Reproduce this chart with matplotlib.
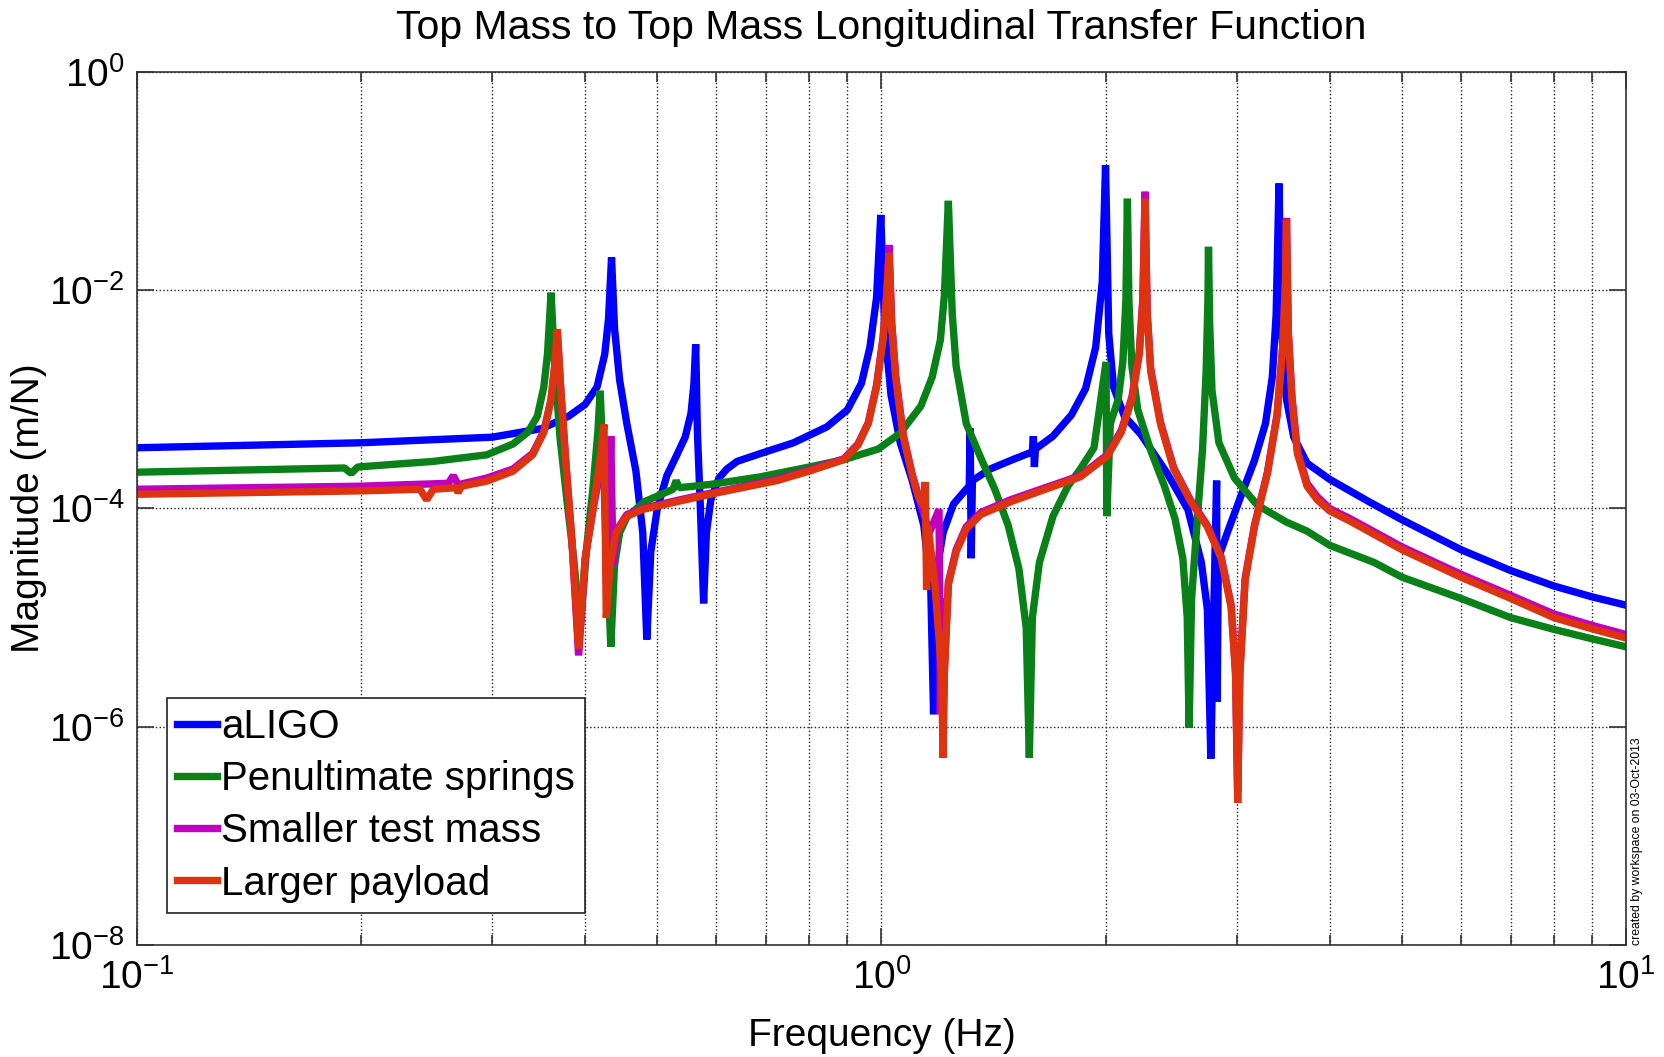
import numpy as np
import matplotlib
matplotlib.use('Agg')
import matplotlib.pyplot as plt
from matplotlib.ticker import FixedLocator, FixedFormatter, NullFormatter, NullLocator

plt.rcParams['font.family'] = ['Liberation Sans', 'DejaVu Sans']
plt.rcParams['mathtext.default'] = 'regular'

# values (frequency in Hz, magnitude in m/N)
f_aligo = [0.10, 0.20, 0.30, 0.35, 0.38, 0.40, 0.415, 0.425, 0.430, 0.434, 0.438, 0.445,
           0.455, 0.468, 0.478, 0.484, 0.490, 0.500, 0.515, 0.530, 0.545, 0.555, 0.560, 0.563,
           0.566, 0.571, 0.577, 0.582, 0.590, 0.605, 0.62, 0.64, 0.689, 0.762, 0.845, 0.90,
           0.94, 0.965, 0.985, 0.998, 1.01, 1.03, 1.06, 1.10, 1.14, 1.165, 1.175, 1.185, 1.21,
           1.25, 1.30, 1.312, 1.316, 1.320, 1.325, 1.40, 1.50, 1.595, 1.60, 1.605, 1.61, 1.70,
           1.80, 1.88, 1.94, 1.98, 2.00, 2.02, 2.05, 2.12, 2.23, 2.42, 2.58, 2.69, 2.74, 2.77,
           2.80, 2.82, 2.825, 2.835, 2.92, 3.04, 3.17, 3.28, 3.35, 3.39, 3.42, 3.45, 3.50, 3.58,
           3.73, 4.0, 4.5, 5.0, 6.0, 7.0, 8.0, 9.0, 10.0]
m_aligo = [3.6e-4, 4.0e-4, 4.5e-4, 5.4e-4, 7.0e-4, 9.0e-4, 1.3e-3, 2.6e-3, 5.5e-3, 2.0e-2, 4.5e-3, 1.5e-3,
           6.0e-4, 2.2e-4, 6.0e-5, 6.3e-6, 4.0e-5, 1.0e-4, 2.0e-4, 3.0e-4, 4.5e-4, 7.5e-4, 1.4e-3, 3.2e-3,
           5.0e-4, 1.1e-4, 1.35e-5, 6.0e-5, 1.2e-4, 1.9e-4, 2.3e-4, 2.7e-4, 3.2e-4, 4.0e-4, 5.6e-4, 8.0e-4,
           1.4e-3, 3.0e-3, 8.5e-3, 4.9e-2, 4.5e-3, 1.1e-3, 4.0e-4, 1.8e-4, 7.0e-5, 1.8e-5, 1.3e-6, 2.5e-5, 6.0e-5,
           1.1e-4, 1.5e-4, 1.6e-4, 5.4e-4, 3.5e-5, 1.8e-4, 2.3e-4, 2.8e-4, 3.3e-4, 4.6e-4, 2.4e-4, 3.5e-4, 4.6e-4,
           7.2e-4, 1.25e-3, 3.0e-3, 1.2e-2, 0.14, 4.0e-3, 1.3e-3, 7.0e-4, 4.8e-4, 2.1e-4, 9.8e-5, 3.2e-5, 1.2e-5, 5.1e-7,
           2.0e-5, 1.8e-4, 1.7e-6, 3.5e-5, 6.2e-5, 1.3e-4, 2.75e-4, 6.0e-4, 1.6e-3, 6.0e-3, 9.5e-2, 4.0e-3, 1.0e-3, 4.5e-4,
           2.6e-4, 1.85e-4, 1.17e-4, 7.9e-5, 4.2e-5, 2.7e-5, 1.95e-5, 1.55e-5, 1.3e-5]

f_springs = [0.10, 0.19, 0.194, 0.198, 0.25, 0.295, 0.32, 0.335, 0.345, 0.352, 0.356, 0.360,
             0.364, 0.370, 0.378, 0.386, 0.394, 0.402, 0.410, 0.416, 0.419, 0.423, 0.428, 0.433,
             0.438, 0.445, 0.455, 0.48, 0.525, 0.53, 0.535, 0.589, 0.688, 0.80, 0.89, 0.99,
             1.06, 1.13, 1.17, 1.20, 1.215, 1.23, 1.245, 1.26, 1.30, 1.36, 1.42, 1.48, 1.53,
             1.565, 1.58, 1.595, 1.63, 1.70, 1.78, 1.85, 1.93, 2.003, 2.008, 2.03, 2.08, 2.11,
             2.13, 2.14, 2.15, 2.17, 2.21, 2.30, 2.40, 2.48, 2.54, 2.575, 2.59, 2.61, 2.66,
             2.70, 2.73, 2.745, 2.75, 2.76, 2.78, 2.84, 2.98, 3.20, 3.5, 3.73, 4.0, 4.59, 5.0,
             6.0, 7.0, 8.0, 9.0, 10.0]
m_springs = [2.15e-4, 2.35e-4, 2.1e-4, 2.4e-4, 2.7e-4, 3.1e-4, 3.9e-4, 5.0e-4, 7.0e-4, 1.3e-3, 2.6e-3, 9.5e-3,
             2.0e-3, 4.5e-4, 1.2e-4, 3.5e-5, 7.8e-6, 4.5e-5, 1.6e-4, 5.0e-4, 1.2e-3, 2.5e-4, 4.0e-5, 5.4e-6,
             3.0e-5, 6.0e-5, 8.3e-5, 1.15e-4, 1.5e-4, 1.8e-4, 1.55e-4, 1.66e-4, 1.95e-4, 2.4e-4, 2.8e-4, 3.5e-4,
             4.9e-4, 8.7e-4, 1.6e-3, 3.5e-3, 9.0e-3, 6.6e-2, 6.0e-3, 2.0e-3, 6.0e-4, 2.9e-4, 1.5e-4, 7.0e-5, 2.8e-5,
             8.0e-6, 5.2e-7, 1.0e-5, 3.2e-5, 8.5e-5, 1.6e-4, 2.3e-4, 3.6e-4, 2.2e-3, 8.5e-5, 6.0e-4, 1.0e-3, 2.2e-3,
             8.0e-3, 6.9e-2, 8.0e-3, 2.0e-3, 8.0e-4, 3.4e-4, 1.6e-4, 8.0e-5, 3.5e-5, 1.0e-5, 9.8e-7, 1.5e-5, 9.0e-5,
             3.5e-4, 1.8e-3, 8.0e-3, 2.5e-2, 5.0e-3, 1.2e-3, 4.0e-4, 1.9e-4, 1.07e-4, 7.5e-5, 6.2e-5, 4.6e-5, 3.2e-5, 2.35e-5,
             1.5e-5, 1.0e-5, 7.8e-6, 6.4e-6, 5.4e-6]

f_small = [0.10, 0.20, 0.262, 0.266, 0.270, 0.295, 0.32, 0.34, 0.352, 0.36, 0.364, 0.367,
           0.371, 0.377, 0.384, 0.392, 0.400, 0.410, 0.418, 0.424, 0.428, 0.433, 0.436, 0.442,
           0.455, 0.478, 0.53, 0.589, 0.65, 0.724, 0.80, 0.89, 0.93, 0.96, 0.985, 1.005, 1.017,
           1.024, 1.032, 1.045, 1.07, 1.10, 1.12, 1.16, 1.195, 1.20, 1.205, 1.21, 1.215, 1.23,
           1.26, 1.30, 1.36, 1.49, 1.66, 1.85, 2.01, 2.10, 2.17, 2.22, 2.245, 2.26, 2.275, 2.30,
           2.37, 2.47, 2.60, 2.74, 2.86, 2.95, 2.99, 3.01, 3.03, 3.08, 3.17, 3.30, 3.40, 3.46,
           3.49, 3.50, 3.52, 3.56, 3.62, 3.73, 3.85, 4.0, 4.27, 5.0, 6.0, 7.0, 8.0, 9.0, 10.0]
m_small = [1.5e-4, 1.6e-4, 1.7e-4, 2.0e-4, 1.65e-4, 1.9e-4, 2.3e-4, 3.2e-4, 5.1e-4, 1.0e-3, 2.0e-3, 4.2e-3,
           1.2e-3, 2.5e-4, 5.0e-5, 4.5e-6, 3.5e-5, 1.0e-4, 2.0e-4, 3.0e-4, 1.4e-5, 4.6e-4, 3.0e-5, 6.5e-5,
           8.8e-5, 1.0e-4, 1.18e-4, 1.38e-4, 1.58e-4, 1.85e-4, 2.25e-4, 2.85e-4, 3.9e-4, 6.1e-4, 1.35e-3, 3.7e-3, 1.0e-2,
           2.6e-2, 5.2e-3, 1.65e-3, 4.7e-4, 2.05e-4, 1.35e-4, 6.0e-5, 9.8e-5, 1.3e-6, 1.5e-5, 9.0e-7, 3.5e-6, 2.1e-5,
           4.2e-5, 6.8e-5, 9.2e-5, 1.2e-4, 1.55e-4, 2.0e-4, 3.1e-4, 5.2e-4, 1.05e-3, 2.7e-3, 8.5e-3, 8.0e-2, 6.3e-3, 1.9e-3,
           6.2e-4, 2.35e-4, 1.2e-4, 7.0e-5, 3.6e-5, 1.3e-5, 3.2e-6, 2.5e-7, 3.2e-6, 2.3e-5, 7.0e-5, 2.15e-4, 7.3e-4, 3.1e-3,
           1.25e-2, 4.6e-2, 4.2e-3, 1.05e-3, 3.4e-4, 1.7e-4, 1.28e-4, 1.0e-4, 8.0e-5, 4.45e-5, 2.5e-5, 1.6e-5, 1.08e-5, 8.5e-6, 7.0e-6]

f_large = [0.10, 0.20, 0.240, 0.245, 0.250, 0.268, 0.270, 0.273, 0.295, 0.32, 0.34, 0.352,
           0.36, 0.364, 0.367, 0.371, 0.377, 0.384, 0.392, 0.400, 0.410, 0.418, 0.424, 0.427,
           0.432, 0.440, 0.455, 0.478, 0.53, 0.589, 0.65, 0.724, 0.80, 0.89, 0.93, 0.96, 0.985,
           1.005, 1.017, 1.024, 1.032, 1.045, 1.07, 1.10, 1.12, 1.14, 1.145, 1.15, 1.155, 1.18,
           1.205, 1.21, 1.215, 1.23, 1.26, 1.30, 1.36, 1.49, 1.66, 1.85, 2.01, 2.10, 2.17, 2.22,
           2.245, 2.26, 2.275, 2.30, 2.37, 2.47, 2.60, 2.74, 2.86, 2.95, 2.99, 3.01, 3.03, 3.08,
           3.17, 3.30, 3.40, 3.46, 3.49, 3.50, 3.52, 3.56, 3.62, 3.73, 3.85, 4.0, 4.27, 5.0, 6.0,
           7.0, 8.0, 9.0, 10.0]
m_large = [1.35e-4, 1.45e-4, 1.5e-4, 1.2e-4, 1.5e-4, 1.55e-4, 1.4e-4, 1.6e-4, 1.78e-4, 2.2e-4, 3.1e-4, 5.0e-4,
           1.0e-3, 2.0e-3, 4.4e-3, 1.2e-3, 2.5e-4, 5.0e-5, 5.2e-6, 3.5e-5, 1.0e-4, 2.5e-4, 5.9e-4, 1.0e-5,
           3.0e-5, 6.0e-5, 8.5e-5, 9.8e-5, 1.15e-4, 1.35e-4, 1.55e-4, 1.8e-4, 2.2e-4, 2.8e-4, 3.8e-4, 6.0e-4, 1.3e-3,
           3.5e-3, 9.0e-3, 2.2e-2, 5.0e-3, 1.6e-3, 4.6e-4, 2.0e-4, 1.3e-4, 1.05e-4, 1.75e-4, 1.8e-5, 7.0e-5, 2.0e-5,
           3.0e-6, 5.2e-7, 3.0e-6, 2.0e-5, 4.0e-5, 6.5e-5, 8.8e-5, 1.15e-4, 1.5e-4, 1.95e-4, 3.0e-4, 5.0e-4, 1.0e-3, 2.6e-3,
           8.0e-3, 6.9e-2, 6.0e-3, 1.8e-3, 6.0e-4, 2.3e-4, 1.17e-4, 6.8e-5, 3.5e-5, 1.23e-5, 3.0e-6, 2.0e-7, 3.0e-6, 2.2e-5,
           6.8e-5, 2.1e-4, 7.1e-4, 3.0e-3, 1.2e-2, 4.4e-2, 4.0e-3, 1.0e-3, 3.2e-4, 1.6e-4, 1.2e-4, 9.5e-5, 7.6e-5, 4.2e-5, 2.35e-5,
           1.5e-5, 1.0e-5, 7.9e-6, 6.5e-6]

labels = ['aLIGO', 'Penultimate springs', 'Smaller test mass', 'Larger payload']
colors = ['#0000FF', '#0A8018', '#BF00BF', '#DD3311']

fig = plt.figure(figsize=(16.64, 10.57), dpi=100)
ax = fig.add_axes([0.0823, 0.106, 0.8948, 0.8259])

# draw the four transfer functions
series = [(f_aligo, m_aligo), (f_springs, m_springs), (f_small, m_small), (f_large, m_large)]
for (f, m), lab, c in zip(series, labels, colors):
    ax.loglog(f, m, color=c, lw=5.3, label=lab, solid_joinstyle='bevel')

ax.set_xlim(0.1, 10)
ax.set_ylim(1e-8, 1)

# ticks in matlab style
ax.xaxis.set_major_locator(FixedLocator([0.1, 1, 10]))
ax.xaxis.set_major_formatter(FixedFormatter(['$10^{-1}$', '$10^{0}$', '$10^{1}$']))
minors = [d * k for d in (0.1, 1) for k in range(2, 10)]
ax.xaxis.set_minor_locator(FixedLocator(minors))
ax.xaxis.set_minor_formatter(NullFormatter())
ax.yaxis.set_major_locator(FixedLocator([1e-8, 1e-6, 1e-4, 1e-2, 1]))
ax.yaxis.set_major_formatter(FixedFormatter(['$10^{-8}$', '$10^{-6}$', '$10^{-4}$', '$10^{-2}$', '$10^{0}$']))
ax.yaxis.set_minor_locator(NullLocator())
ax.tick_params(which='both', direction='in', top=True, right=True, labelsize=28, width=1.2, color='#333333')
ax.tick_params(which='major', length=12)
ax.tick_params(which='minor', length=7)
ax.tick_params(axis='x', pad=10)
ax.tick_params(axis='y', pad=9)
for s in ax.spines.values():
    s.set_color('#333333')
    s.set_linewidth(1.2)

ax.grid(True, which='major', linestyle=':', color='#222222', lw=1.0)
ax.grid(True, which='minor', axis='x', linestyle=':', color='#222222', lw=1.0)

ax.set_xlabel('Frequency (Hz)', fontsize=28, va='top')
ax.xaxis.set_label_coords(0.5, -0.084)
ax.set_ylabel('Magnitude (m/N)', fontsize=28)
ax.yaxis.set_label_coords(-0.0605, 0.5)
ax.set_title('Top Mass to Top Mass Longitudinal Transfer Function', fontsize=29.5, pad=24)

leg = ax.legend(loc='lower left', bbox_to_anchor=(0.02, 0.037), borderaxespad=0,
                fontsize=29, handlelength=1.0, handletextpad=0.1, labelspacing=0.35,
                borderpad=0.25, fancybox=False, framealpha=1, edgecolor='#222222')
leg.get_frame().set_linewidth(1.2)

fig.text(0.9835, 0.106, 'created by workspace on 03-Oct-2013', rotation=90, fontsize=8.8,
         va='bottom', ha='center')

plt.savefig('out.png', dpi=100)
